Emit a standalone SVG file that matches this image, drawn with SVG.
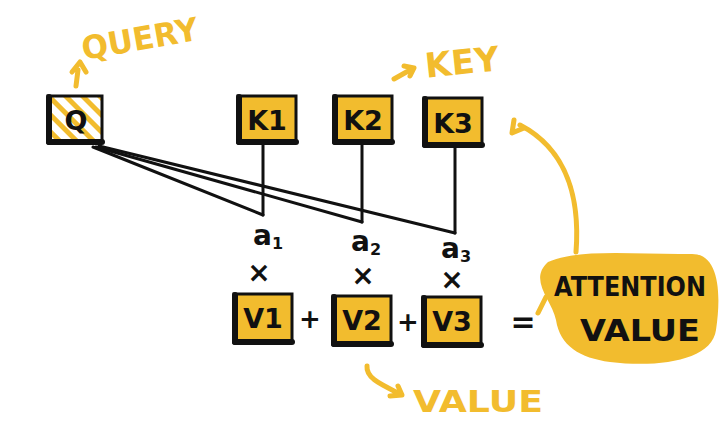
<svg xmlns="http://www.w3.org/2000/svg" width="720" height="424" viewBox="0 0 720 424">
<defs>
<style>
.box{fill:#F2BC2E;stroke:#111;stroke-width:3}
.edge{stroke:#111;stroke-width:6;stroke-linecap:round}
.bt{font-family:"DejaVu Sans","Liberation Sans",sans-serif;font-weight:bold;font-size:27px;fill:#111;text-anchor:middle}
.blk{font-family:"DejaVu Sans","Liberation Sans",sans-serif;font-weight:bold;fill:#111;text-anchor:middle}
.yl{font-family:"DejaVu Sans","Liberation Sans",sans-serif;font-weight:bold;fill:#F2BC2E;text-anchor:middle}
.wire{stroke:#111;stroke-width:3;fill:none;stroke-linecap:round}
.ywire{stroke:#F2BC2E;stroke-width:5;fill:none;stroke-linecap:round;stroke-linejoin:round}
</style>
<pattern id="hatch" width="12" height="12" patternUnits="userSpaceOnUse" patternTransform="rotate(-45)">
<rect width="12" height="12" fill="#fff"/>
<rect width="5" height="12" fill="#F2BC2E"/>
</pattern>
</defs>
<g id="connectors">
<line class="wire" x1="93" y1="147" x2="263" y2="215"/>
<line class="wire" x1="96" y1="147" x2="362" y2="222"/>
<line class="wire" x1="99" y1="146" x2="455" y2="233"/>
<line class="wire" x1="263" y1="145" x2="263" y2="215"/>
<line class="wire" x1="362" y1="145" x2="362" y2="222"/>
<line class="wire" x1="455" y1="148" x2="455" y2="233"/>
<path class="ywire" d="M576 252 C580 200 568 150 520 125"/>
<path class="ywire" d="M514 120 L512 133 L524 128"/>
<path class="ywire" d="M538 313 L546 297"/>
<path class="ywire" d="M76 86 L78 70 M72 72 L80 62 L86 72"/>
<path class="ywire" d="M394 79 L410 70 M404 66 L414 68 L410 76"/>
<path class="ywire" d="M367 366 C366 378 380 384 400 394 M390 396 L402 395 L398 386"/>
</g>
<g id="query-label"><text class="yl" x="140" y="50" font-size="32" textLength="118" lengthAdjust="spacingAndGlyphs" transform="rotate(-10 140 40)">QUERY</text></g>
<g id="key-label"><text class="yl" x="462" y="74" font-size="34" transform="rotate(-6 462 62)">KEY</text></g>
<g id="value-label"><text class="yl" x="478" y="412" font-size="31" textLength="130" lengthAdjust="spacingAndGlyphs">VALUE</text></g>
<g id="node-q">
<rect x="48" y="96" width="54" height="46" fill="url(#hatch)" stroke="#111" stroke-width="3"/>
<line class="edge" x1="49" y1="97" x2="49" y2="142"/><line class="edge" x1="49" y1="142" x2="102" y2="142"/>
<text class="bt" x="76" y="130">Q</text>
</g>
<g id="node-k1">
<rect class="box" x="238" y="96" width="58" height="46"/>
<line class="edge" x1="239" y1="97" x2="239" y2="142"/><line class="edge" x1="239" y1="142" x2="296" y2="142"/>
<text class="bt" x="267" y="130">K1</text>
</g>
<g id="node-k2">
<rect class="box" x="334" y="96" width="58" height="46"/>
<line class="edge" x1="335" y1="97" x2="335" y2="142"/><line class="edge" x1="335" y1="142" x2="392" y2="142"/>
<text class="bt" x="363" y="130">K2</text>
</g>
<g id="node-k3">
<rect class="box" x="424" y="98" width="58" height="47"/>
<line class="edge" x1="425" y1="99" x2="425" y2="145"/><line class="edge" x1="425" y1="145" x2="482" y2="145"/>
<text class="bt" x="453" y="133">K3</text>
</g>
<g id="weights">
<text class="blk" x="268" y="245" font-size="28">a<tspan font-size="16" dy="4">1</tspan></text>
<text class="blk" x="366" y="251" font-size="28">a<tspan font-size="16" dy="4">2</tspan></text>
<text class="blk" x="456" y="258" font-size="28">a<tspan font-size="16" dy="4">3</tspan></text>
<text class="blk" x="259" y="282" font-size="28">×</text>
<text class="blk" x="363" y="285" font-size="28">×</text>
<text class="blk" x="452" y="289" font-size="28">×</text>
</g>
<g id="node-v1">
<rect class="box" x="234" y="294" width="58" height="48"/>
<line class="edge" x1="235" y1="295" x2="235" y2="342"/><line class="edge" x1="235" y1="342" x2="292" y2="342"/>
<text class="bt" x="263" y="328">V1</text>
</g>
<g id="node-v2">
<rect class="box" x="333" y="296" width="58" height="48"/>
<line class="edge" x1="334" y1="297" x2="334" y2="344"/><line class="edge" x1="334" y1="344" x2="391" y2="344"/>
<text class="bt" x="362" y="330">V2</text>
</g>
<g id="node-v3">
<rect class="box" x="423" y="297" width="58" height="48"/>
<line class="edge" x1="424" y1="298" x2="424" y2="345"/><line class="edge" x1="424" y1="345" x2="481" y2="345"/>
<text class="bt" x="452" y="331">V3</text>
</g>
<g id="operators">
<text class="blk" x="310" y="328" font-size="26">+</text>
<text class="blk" x="408" y="331" font-size="26">+</text>
<text class="blk" x="523" y="332" font-size="30">=</text>
</g>
<g id="node-attention">
<path d="M548 262 C580 248 640 255 690 254 C718 252 722 290 716 330 C712 360 660 368 610 362 C580 358 560 346 556 320 C552 300 528 280 548 262 Z" fill="#F2BC2E"/>
<text class="blk" x="630" y="296" font-size="26" textLength="152" lengthAdjust="spacingAndGlyphs">ATTENTION</text>
<text class="blk" x="640" y="341" font-size="30" textLength="120" lengthAdjust="spacingAndGlyphs">VALUE</text>
</g>
</svg>
